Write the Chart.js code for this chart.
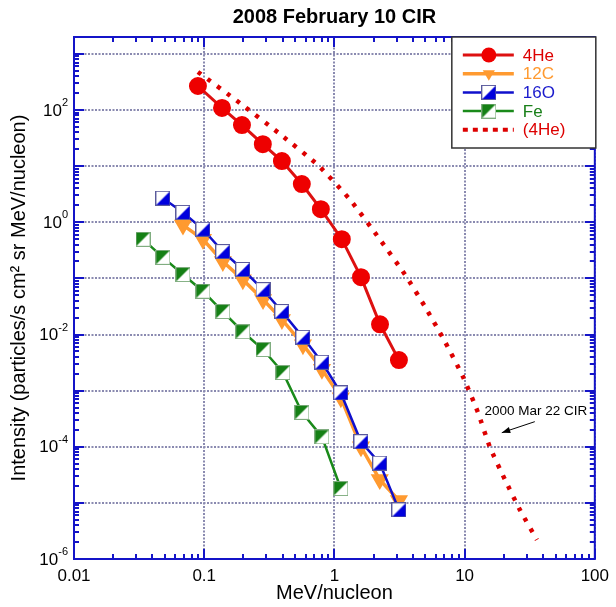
<!DOCTYPE html>
<html>
<head>
<meta charset="utf-8">
<title>2008 February 10 CIR</title>
<script src="https://cdn.jsdelivr.net/npm/chart.js@4.4.1/dist/chart.umd.min.js"></script>
<style>
  html, body { margin: 0; padding: 0; background: #fff; }
  canvas { display: block; }
</style>
</head>
<body>
<canvas id="chart" width="616" height="607"></canvas>
<script>
// energies in MeV/nucleon, intensities in particles/(s cm2 sr MeV/nucleon)
const heEnergy = [0.0895, 0.137, 0.195, 0.282, 0.395, 0.562, 0.787, 1.14, 1.60, 2.24, 3.13];
const heFlux   = [268, 109, 54, 24.6, 12.3, 4.8, 1.71, 0.50, 0.105, 0.0152, 0.0035];

const cEnergy = [0.0687, 0.0978, 0.139, 0.198, 0.283, 0.395, 0.573, 0.802, 1.12, 1.60, 2.23, 3.13];
const cFlux   = [0.89, 0.497, 0.20, 0.095, 0.042, 0.0186, 0.0066, 0.0024, 7.5e-4, 1.0e-4, 2.6e-5, 1.1e-5];

const oEnergy = [0.0482, 0.0687, 0.0978, 0.139, 0.198, 0.283, 0.395, 0.573, 0.802, 1.12, 1.60, 2.23, 3.13];
const oFlux   = [2.68, 1.5, 0.75, 0.30, 0.144, 0.063, 0.0257, 0.0089, 0.0032, 9.1e-4, 1.23e-4, 5.1e-5, 7.5e-6];

const feEnergy = [0.0339, 0.0482, 0.0687, 0.0978, 0.139, 0.198, 0.283, 0.402, 0.563, 0.802, 1.12];
const feFlux   = [0.497, 0.237, 0.117, 0.059, 0.0257, 0.0112, 0.0054, 0.0021, 4.1e-4, 1.5e-4, 1.8e-5];

// (4He) spectrum of the 2000 Mar 22 CIR, dotted
const refEnergy = [0.0895, 0.188, 0.382, 0.747, 1.31, 2.23, 3.47, 4.95, 7.05, 9.7, 12.6, 15.6, 20.4, 26.6, 35.9];
const refFlux   = [477, 133, 37.3, 10.4, 2.57, 0.497, 0.118, 0.0316, 0.0075, 1.78e-3, 4.2e-4, 1.0e-4, 2.6e-5, 7.5e-6, 2.2e-6];

const xTickValues = [0.01, 0.1, 1, 10, 100];
const xTickLabels = ['0.01', '0.1', '1', '10', '100'];
const yGridValues = [1e-6, 1e-5, 1e-4, 1e-3, 1e-2, 1e-1, 1, 10, 100, 1000];
const yLabelExps  = [2, 0, -2, -4, -6];

const AXIS_BLUE = '#1414c8';
const GRID = '#8a8ab0';
const FONT = 'Arial, "Liberation Sans", Helvetica, sans-serif';

function halfSquare(fill, edge, lowerRight) {
  const s = 15;
  const c = document.createElement('canvas');
  c.width = s; c.height = s;
  const g = c.getContext('2d');
  g.fillStyle = '#fff';
  g.fillRect(0, 0, s, s);
  g.fillStyle = fill;
  g.beginPath();
  if (lowerRight) { g.moveTo(s, 0); g.lineTo(s, s); g.lineTo(0, s); }
  else { g.moveTo(0, 0); g.lineTo(s, 0); g.lineTo(0, s); }
  g.closePath();
  g.fill();
  g.strokeStyle = edge;
  g.lineWidth = 1;
  g.strokeRect(0.5, 0.5, s - 1, s - 1);
  return c;
}
const oMark = halfSquare('#0000dd', '#5a5a9c', true);
const feMark = halfSquare('#158015', '#80ad80', false);

const pts = (xs, ys) => xs.map((x, i) => ({ x: x, y: ys[i] }));

const datasets = [
  { label: '4He', data: pts(heEnergy, heFlux), borderColor: '#dd1111', borderWidth: 3,
    pointStyle: 'circle', pointRadius: 7.5, pointBackgroundColor: '#ee0000', pointBorderColor: '#ee0000',
    textColor: '#dd0000', order: 1 },
  { label: '12C', data: pts(cEnergy, cFlux), borderColor: '#ff9a30', borderWidth: 3.5,
    pointStyle: 'triangle', pointRotation: 180, pointRadius: 7, pointBackgroundColor: '#ff9a30', pointBorderColor: '#ff9a30',
    textColor: '#ff9a30', order: 3 },
  { label: '16O', data: pts(oEnergy, oFlux), borderColor: '#1010cc', borderWidth: 2.5,
    pointStyle: oMark, pointRadius: 7, textColor: '#1a1acc', order: 2 },
  { label: 'Fe', data: pts(feEnergy, feFlux), borderColor: '#1a8a1a', borderWidth: 2.5,
    pointStyle: feMark, pointRadius: 7, textColor: '#1a801a', order: 4 },
  { label: '(4He)', data: pts(refEnergy, refFlux), borderColor: '#dd0000', borderWidth: 4.5,
    borderDash: [4, 8], pointRadius: 0, tension: 0.2, textColor: '#dd0000', order: 5 }
];

// frame with inward ticks, y labels with exponents, title, note and legend
const decorations = {
  id: 'decorations',
  afterDraw(chart) {
    const ctx = chart.ctx;
    const a = chart.chartArea;
    const sx = chart.scales.x, sy = chart.scales.y;
    ctx.save();

    ctx.strokeStyle = AXIS_BLUE;
    ctx.lineWidth = 2;
    ctx.beginPath();
    for (let d = -2; d <= 2; d++) {
      for (let m = 1; m <= 9; m++) {
        const v = m * Math.pow(10, d);
        if (v > 100 * 1.0001) break;
        const px = Math.round(sx.getPixelForValue(v));
        const len = m === 1 ? 10 : 5;
        ctx.moveTo(px, a.bottom); ctx.lineTo(px, a.bottom - len);
        ctx.moveTo(px, a.top); ctx.lineTo(px, a.top + len);
      }
    }
    for (let d = -6; d <= 3; d++) {
      for (let m = 1; m <= 9; m++) {
        const v = m * Math.pow(10, d);
        if (v > sy.max) break;
        const py = Math.round(sy.getPixelForValue(v));
        const len = m === 1 ? 10 : 5;
        ctx.moveTo(a.left, py); ctx.lineTo(a.left + len, py);
        ctx.moveTo(a.right, py); ctx.lineTo(a.right - len, py);
      }
    }
    ctx.stroke();
    ctx.strokeRect(a.left, a.top, a.right - a.left, a.bottom - a.top);

    // y tick labels as 10 with a raised exponent
    ctx.fillStyle = '#000';
    ctx.textBaseline = 'middle';
    yLabelExps.forEach(e => {
      const py = sy.getPixelForValue(Math.pow(10, e));
      const right = a.left - 6;
      ctx.font = '11px ' + FONT;
      const exp = String(e);
      const ew = ctx.measureText(exp).width;
      ctx.textAlign = 'left';
      ctx.fillText(exp, right - ew, py - 7);
      ctx.font = '17px ' + FONT;
      ctx.textAlign = 'right';
      ctx.fillText('10', right - ew, py + 1);
    });

    // title
    ctx.font = 'bold 20px ' + FONT;
    ctx.textAlign = 'center';
    ctx.fillText('2008 February 10 CIR', (a.left + a.right) / 2, 17);

    // note with arrow
    ctx.font = '13.5px ' + FONT;
    ctx.fillText('2000 Mar 22 CIR', sx.getPixelForValue(35.2), sy.getPixelForValue(4.2e-4));
    const tx = sx.getPixelForValue(34.6), ty = sy.getPixelForValue(2.8e-4);
    const hx = sx.getPixelForValue(19.3), hy = sy.getPixelForValue(1.78e-4);
    const ang = Math.atan2(hy - ty, hx - tx);
    ctx.strokeStyle = '#000';
    ctx.lineWidth = 1;
    ctx.beginPath(); ctx.moveTo(tx, ty); ctx.lineTo(hx, hy); ctx.stroke();
    ctx.beginPath();
    ctx.moveTo(hx, hy);
    ctx.lineTo(hx - 9 * Math.cos(ang - 0.35), hy - 9 * Math.sin(ang - 0.35));
    ctx.lineTo(hx - 9 * Math.cos(ang + 0.35), hy - 9 * Math.sin(ang + 0.35));
    ctx.closePath();
    ctx.fillStyle = '#000';
    ctx.fill();

    // legend
    const bw = 144, bh = 111;
    const bx = a.right - bw + 1, by = a.top;
    ctx.fillStyle = '#fff';
    ctx.fillRect(bx, by, bw, bh);
    ctx.strokeStyle = '#333';
    ctx.lineWidth = 1.5;
    ctx.strokeRect(bx, by, bw, bh);
    chart.data.datasets.forEach((ds, i) => {
      const ry = by + 18 + i * 18.7;
      ctx.strokeStyle = ds.borderColor;
      ctx.lineWidth = ds.borderDash ? 4 : ds.borderWidth;
      ctx.setLineDash(ds.borderDash ? [5, 5] : []);
      ctx.beginPath(); ctx.moveTo(bx + 11, ry); ctx.lineTo(bx + 62, ry); ctx.stroke();
      ctx.setLineDash([]);
      const mx = bx + 37;
      if (ds.pointStyle === 'circle') {
        ctx.fillStyle = ds.pointBackgroundColor;
        ctx.beginPath(); ctx.arc(mx, ry, ds.pointRadius, 0, Math.PI * 2); ctx.fill();
      } else if (ds.pointStyle === 'triangle') {
        const r = ds.pointRadius;
        ctx.fillStyle = ds.pointBackgroundColor;
        ctx.beginPath();
        ctx.moveTo(mx - r * 0.87, ry - r * 0.5);
        ctx.lineTo(mx + r * 0.87, ry - r * 0.5);
        ctx.lineTo(mx, ry + r);
        ctx.closePath(); ctx.fill();
      } else if (ds.pointStyle && ds.pointStyle.width) {
        ctx.drawImage(ds.pointStyle, mx - ds.pointStyle.width / 2, ry - ds.pointStyle.height / 2);
      }
      ctx.fillStyle = ds.textColor;
      ctx.font = '17px ' + FONT;
      ctx.textAlign = 'left';
      ctx.textBaseline = 'middle';
      ctx.fillText(ds.label, bx + 71, ry + 1);
    });
    ctx.restore();
  }
};

new Chart(document.getElementById('chart'), {
  type: 'line',
  data: { datasets: datasets },
  options: {
    responsive: false,
    devicePixelRatio: 1,
    animation: false,
    layout: { padding: { top: 37, right: 21, left: 0, bottom: 0 } },
    plugins: { legend: { display: false }, tooltip: { enabled: false } },
    elements: { line: { fill: false } },
    scales: {
      x: {
        type: 'logarithmic',
        min: 0.01, max: 100,
        afterBuildTicks: s => { s.ticks = xTickValues.map(v => ({ value: v })); },
        afterFit: s => { s.height = 48; },
        ticks: {
          autoSkip: false, maxRotation: 0, padding: 7, color: '#000',
          font: { family: FONT, size: 17 },
          callback: (v, i) => xTickLabels[i]
        },
        grid: { color: GRID, lineWidth: 2, drawTicks: false },
        border: { display: false, dash: [2, 1.5] },
        title: { display: true, text: 'MeV/nucleon', color: '#000',
                 font: { family: FONT, size: 20 }, padding: { top: 0, bottom: 2 } }
      },
      y: {
        type: 'logarithmic',
        min: 1e-6, max: 2000,
        afterBuildTicks: s => { s.ticks = yGridValues.map(v => ({ value: v })); },
        afterFit: s => { s.width = 74; },
        ticks: { display: false },
        grid: { color: GRID, lineWidth: 2, drawTicks: false },
        border: { display: false, dash: [2, 1.5] },
        title: { display: true, text: 'Intensity (particles/s cm² sr MeV/nucleon)', color: '#000',
                 font: { family: FONT, size: 20 }, padding: { top: 7, bottom: 0 } }
      }
    }
  },
  plugins: [decorations]
});
</script>
</body>
</html>
